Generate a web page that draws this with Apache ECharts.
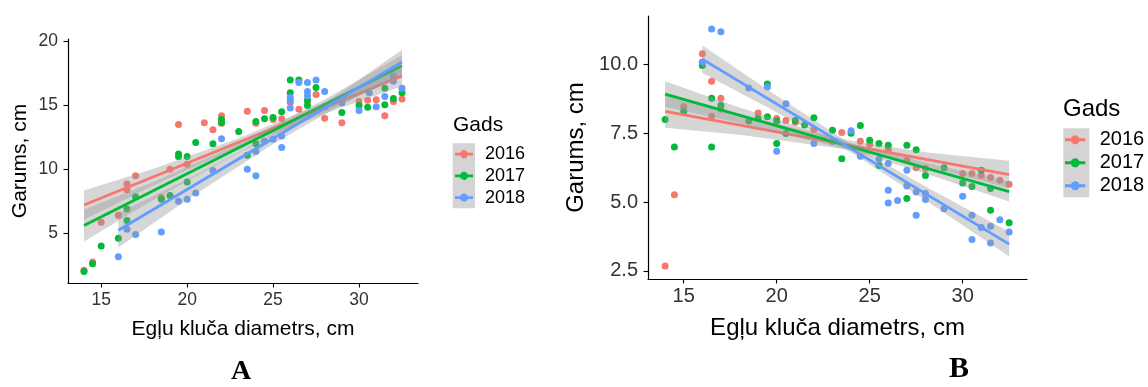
<!DOCTYPE html>
<html>
<head>
<meta charset="utf-8">
<script src="https://cdn.jsdelivr.net/npm/echarts@6/dist/echarts.min.js"></script>
<style>
  html, body { margin: 0; padding: 0; background: #fff; }
  #chart { width: 1148px; height: 387px; }
</style>
</head>
<body>
<div id="chart"></div>
<script>
// Years (legend "Gads") and their colours
const years = ['2016', '2017', '2018'];
const yearColors = ['#F8766D', '#00BA38', '#619CFF'];

// Axis tick values
const aXTicks = [15, 20, 25, 30];
const aYTicks = [5, 10, 15, 20];
const bXTicks = [15, 20, 25, 30];
const bYTicks = [2.5, 5, 7.5, 10];

// Panel A: diameter (cm) vs length (cm)
const aPts2016 = [[14,2.1],[14.5,2.75],[15,5.85],[16,6.4],[16.5,8.4],[16.5,8.85],[17,9.5],[18.5,7.8],[19,10.0],[19.5,13.5],[20,10.4],[21,13.65],[21.5,13.1],[22,14.2],[22,13.6],[23.5,14.55],[24,13.6],[24.5,14.6],[25,13.9],[25.5,13.95],[26,15.25],[26.5,14.7],[27,15.3],[27.5,15.85],[28,14.0],[29,13.65],[30,15.3],[30.5,15.4],[31,15.45],[31.5,14.2],[32,15.3],[32.5,15.5]];
const aPts2017 = [[14,2.0],[14.5,2.6],[15,4.0],[16,4.6],[16.5,6.0],[16.5,6.9],[17,7.85],[18.5,7.65],[19,7.95],[19.5,11.2],[19.5,11.0],[20,9.0],[20,11.0],[20.5,12.1],[21.5,12.0],[22,13.9],[22,13.65],[23,12.95],[23.5,11.1],[24,13.75],[24,12.0],[24.5,13.95],[25,14.05],[25.5,14.5],[26,17.0],[26,16.0],[26.5,17.0],[27,15.4],[27,15.0],[27.5,16.4],[29,14.45],[30,15.0],[30.5,14.85],[31.5,15.05],[31.5,16.35],[32,15.55],[32.5,16.0]];
const aPts2018 = [[16,3.15],[16.5,5.3],[17,4.9],[18.5,5.1],[19.5,7.5],[20,7.65],[20.5,8.15],[21.5,9.9],[22,12.4],[23.5,10.0],[24,9.5],[24,11.4],[24.5,12.2],[25,12.35],[25.5,12.6],[25.5,11.7],[26,15.65],[26,15.4],[26,14.8],[26.5,16.8],[27,16.8],[27,16.1],[27,15.75],[27.5,17.0],[28,16.1],[28,14.9],[29,15.2],[30,14.6],[30.6,16.0],[31,14.9],[31.5,15.7],[32,17.3],[32,16.9],[32.5,16.35]];

// Panel A: fitted lines (ends) and confidence bands [x, lower, upper]
const aFit2016 = [[14,7.2],[32.5,17.3]];
const aFit2017 = [[14,5.6],[32.5,18.1]];
const aFit2018 = [[16,5.23],[32.5,18.4]];
const aBand2016 = [[14,6.05,8.35],[18,8.72,10.02],[23,11.74,12.44],[28,14.35,15.25],[32.5,16.5,18.1]];
const aBand2017 = [[14,4.35,6.85],[18,7.59,8.99],[23,11.3,12.0],[28,14.56,15.46],[32.5,17.25,18.95]];
const aBand2018 = [[16,3.88,6.58],[20,7.61,9.21],[25,11.99,12.79],[29,15.07,16.07],[32.5,17.45,19.35]];

// Panel B: diameter (cm) vs length (cm)
const bPts2016 = [[14,2.67],[14.5,5.27],[15,8.48],[16,10.4],[16.5,9.4],[16.5,8.12],[17,8.78],[17,8.38],[19,8.24],[20,8.04],[20.5,7.97],[21,7.9],[22,7.64],[23.5,7.53],[24.5,7.21],[25,7.1],[26,6.9],[27,6.52],[27.5,6.25],[28,6.22],[30,6.04],[30.5,6.04],[31,5.97],[31.5,5.89],[32,5.79],[32.5,5.65]];
const bPts2017 = [[14,8.0],[14.5,7.0],[15,8.3],[16,9.97],[16.5,8.78],[16.5,7.0],[17,8.52],[18.5,7.95],[19,8.04],[19.5,9.3],[19.5,8.1],[20,7.95],[20,7.13],[20.5,7.49],[21,7.97],[21.5,7.8],[22,8.07],[23,7.61],[23.5,6.58],[24,7.5],[24.5,7.79],[25,7.25],[25.5,7.13],[25.5,6.33],[26,7.07],[27,7.07],[27,5.13],[27.5,6.9],[28,5.97],[29,6.25],[30,5.69],[30.5,5.57],[31,6.16],[31.5,5.49],[31.5,4.7],[32.5,4.25]];
const bPts2018 = [[16,10.1],[16.5,11.3],[17,11.2],[18.5,9.15],[19.5,9.19],[20,6.85],[20.5,8.58],[22,7.13],[23,7.2],[24,7.59],[24.5,6.67],[25.5,6.56],[26,6.4],[26,5.43],[26,4.97],[26.5,5.06],[27,6.16],[27,5.58],[27.5,5.37],[27.5,4.52],[28,5.31],[28,5.09],[29,4.76],[30,5.21],[30.5,4.52],[30.5,3.64],[31,4.07],[31.5,4.12],[31.5,3.51],[32,4.36],[32.5,3.91]];

// Panel B: fitted lines (ends) and confidence bands [x, lower, upper]
const bFit2016 = [[14,8.3],[32.5,6.0]];
const bFit2017 = [[14,8.93],[32.5,5.38]];
const bFit2018 = [[16,10.2],[32.5,3.47]];
const bBand2016 = [[14,7.7,8.9],[18,7.45,8.15],[24,6.89,7.23],[28,6.31,6.81],[32.5,5.5,6.5]];
const bBand2017 = [[14,8.46,9.4],[18,7.88,8.44],[24,6.88,7.14],[28,6.04,6.44],[32.5,5.02,5.74]];
const bBand2018 = [[16,9.7,10.7],[20,8.27,8.87],[24,6.8,7.1],[28,5.07,5.57],[32.5,3.02,3.92]];

const FONT = "'Liberation Sans', Arial, sans-serif";
const BAND_FILL = 'rgba(153,153,153,0.4)';
const KEY_ICON = 'path://M0,2.65H5.24A4,4 0 0 1 12.76,2.65H18V5.35H12.76A4,4 0 0 1 5.24,5.35H0Z';

function scatterSeries(name, data, idx, color) {
  return {
    type: 'scatter', name, data, xAxisIndex: idx, yAxisIndex: idx,
    symbol: 'circle', symbolSize: 7, z: 1, silent: true,
    itemStyle: { color, opacity: 1 }
  };
}

function bandSeries(name, data, idx, z) {
  return {
    type: 'custom', name, data, xAxisIndex: idx, yAxisIndex: idx, z, silent: true,
    encode: { x: 0, y: [1, 2] },
    renderItem(params, api) {
      if (params.dataIndexInside !== 0) return null;
      const upper = data.map(d => api.coord([d[0], d[2]]));
      const lower = data.map(d => api.coord([d[0], d[1]])).reverse();
      return {
        type: 'polygon',
        shape: { points: upper.concat(lower) },
        style: { fill: BAND_FILL, stroke: null }
      };
    }
  };
}

function fitSeries(name, data, idx, color, z) {
  return {
    type: 'line', name, data, xAxisIndex: idx, yAxisIndex: idx, z, silent: true,
    showSymbol: false, symbol: 'none',
    lineStyle: { color, width: 2.8 }
  };
}

function axisCommon(ticks, labelSize, margin, fmt) {
  return {
    axisLine: { show: true, onZero: false, lineStyle: { color: '#000', width: 1.2 } },
    axisTick: { show: true, length: 4.5, lineStyle: { color: '#000', width: 1.1 }, customValues: ticks },
    axisLabel: { color: '#333', fontSize: labelSize, fontFamily: FONT, margin, customValues: ticks, formatter: fmt },
    splitLine: { show: false }
  };
}

const ptsA = [aPts2016, aPts2017, aPts2018];
const fitA = [aFit2016, aFit2017, aFit2018];
const bandA = [aBand2016, aBand2017, aBand2018];
const ptsB = [bPts2016, bPts2017, bPts2018];
const fitB = [bFit2016, bFit2017, bFit2018];
const bandB = [bBand2016, bBand2017, bBand2018];

const series = [];
[[ptsA, fitA, bandA], [ptsB, fitB, bandB]].forEach(([pts, fits, bands], idx) => {
  years.forEach((y, i) => series.push(scatterSeries(y, pts[i], idx, yearColors[i])));
  years.forEach((y, i) => {
    series.push(bandSeries(y, bands[i], idx, 2 + i * 2));
    series.push(fitSeries(y, fits[i], idx, yearColors[i], 3 + i * 2));
  });
});

function legendFor(idx, left, top, itemW, itemH, lineH, fontSize, textPad) {
  return {
    show: true, orient: 'vertical', left, top, padding: 0, itemGap: 0,
    itemWidth: itemW, itemHeight: itemH, selectedMode: false,
    data: years.map((y, i) => ({ name: y, icon: KEY_ICON, itemStyle: { color: yearColors[i] } })),
    textStyle: { fontSize, fontFamily: FONT, color: '#000', lineHeight: lineH, padding: [0, 0, 0, textPad] }
  };
}

const option = {
  animation: false,
  backgroundColor: '#fff',
  grid: [
    { left: 68, top: 39, width: 350, height: 244 },
    { left: 648, top: 16, width: 379, height: 263 }
  ],
  xAxis: [
    Object.assign({ type: 'value', gridIndex: 0, min: 13.07, max: 33.43,
      name: 'Egļu kluča diametrs, cm', nameLocation: 'middle', nameGap: 36,
      nameTextStyle: { fontSize: 21, fontFamily: FONT, color: '#000' } },
      axisCommon(aXTicks, 17.5, 8, v => String(v))),
    Object.assign({ type: 'value', gridIndex: 1, min: 13.08, max: 33.46,
      name: 'Egļu kluča diametrs, cm', nameLocation: 'middle', nameGap: 37,
      nameTextStyle: { fontSize: 24, fontFamily: FONT, color: '#000' } },
      axisCommon(bXTicks, 20, 7, v => String(v)))
  ],
  yAxis: [
    Object.assign({ type: 'value', gridIndex: 0, min: 1.1, max: 20.2,
      name: 'Garums, cm', nameLocation: 'middle', nameGap: 37,
      nameTextStyle: { fontSize: 21, fontFamily: FONT, color: '#000' } },
      axisCommon(aYTicks, 17.5, 10, v => String(v))),
    Object.assign({ type: 'value', gridIndex: 1, min: 2.2, max: 11.77,
      name: 'Garums, cm', nameLocation: 'middle', nameGap: 60,
      nameTextStyle: { fontSize: 24, fontFamily: FONT, color: '#000' } },
      axisCommon(bYTicks, 20, 10, v => v.toFixed(1)))
  ],
  legend: [
    legendFor(0, 455, 143.3, 18, 8, 21.7, 18, 7),
    legendFor(1, 1065, 128.3, 21, 9, 23, 20, 9)
  ],
  graphic: [
    // legend key backgrounds (the band fill behind the keys)
    { type: 'rect', left: 452.7, top: 143.3, z: -1, shape: { width: 22.3, height: 65 }, style: { fill: '#d4d4d4' } },
    { type: 'rect', left: 1063.3, top: 128.3, z: -1, shape: { width: 26, height: 69 }, style: { fill: '#d4d4d4' } },
    { type: 'text', x: 453, y: 125, style: { text: 'Gads', fontSize: 21, fontFamily: FONT, fill: '#000', verticalAlign: 'middle' } },
    { type: 'text', x: 1063, y: 109, style: { text: 'Gads', fontSize: 24, fontFamily: FONT, fill: '#000', verticalAlign: 'middle' } },
    // panel letters
    { type: 'text', x: 241, y: 386, style: { text: 'A', fontSize: 28, fontWeight: 'bold', fontFamily: "'Liberation Serif', 'Times New Roman', serif", fill: '#000', align: 'center', verticalAlign: 'bottom' } },
    { type: 'text', x: 959, y: 384, style: { text: 'B', fontSize: 30, fontWeight: 'bold', fontFamily: "'Liberation Serif', 'Times New Roman', serif", fill: '#000', align: 'center', verticalAlign: 'bottom' } }
  ],
  series
};

const chart = echarts.init(document.getElementById('chart'), null, { renderer: 'canvas' });
chart.setOption(option);
</script>
</body>
</html>
